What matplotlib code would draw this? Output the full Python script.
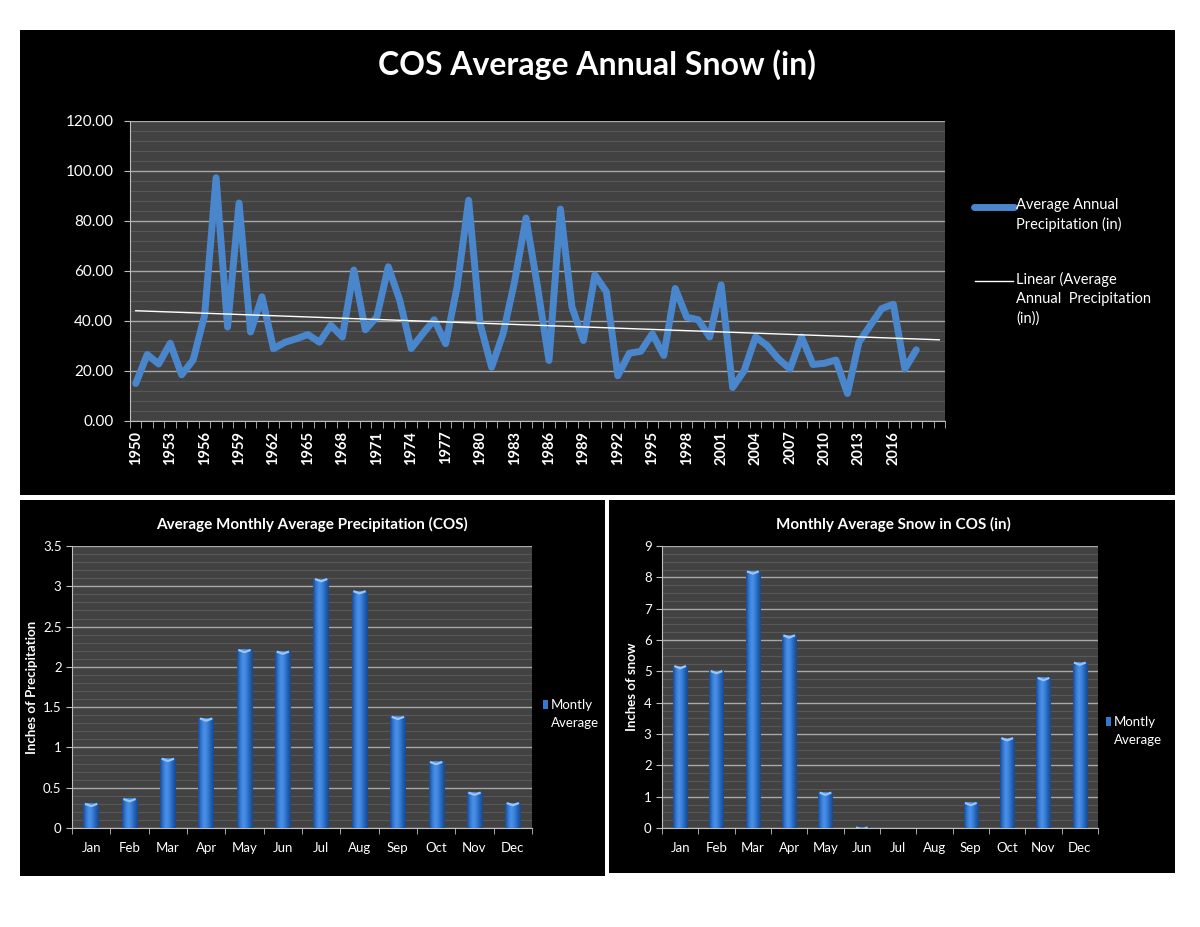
import numpy as np
import matplotlib
matplotlib.use("Agg")
import matplotlib.pyplot as plt
from matplotlib.patches import Rectangle
from matplotlib.lines import Line2D
from matplotlib.colors import LinearSegmentedColormap
from matplotlib.ticker import MultipleLocator, FixedLocator

plt.rcParams['font.family'] = ['Lato', 'DejaVu Sans']

# ---- data ----
years = list(range(1950, 2019))
annual_snow = [15.0, 26.6, 22.8, 31.1, 18.5, 24.4, 42.3, 97.3, 37.6, 87.2,
               35.6, 49.7, 28.9, 31.5, 32.9, 34.6, 31.5, 38.3, 33.6, 60.4,
               36.5, 41.6, 61.7, 48.3, 29.0, 34.9, 40.5, 30.9, 53.7, 88.3,
               38.9, 21.5, 34.9, 55.7, 81.2, 53.7, 24.2, 84.8, 45.6, 32.2,
               58.4, 51.7, 18.1, 27.1, 27.9, 34.9, 26.2, 53.0, 41.5, 40.5,
               33.6, 54.4, 13.4, 20.1, 33.6, 30.2, 24.8, 20.8, 33.6, 22.6,
               23.1, 24.4, 11.0, 31.5, 38.3, 45.0, 46.7, 20.8, 28.5]
n_slots = 71  # category axis runs two empty slots past the last year

months = ['Jan', 'Feb', 'Mar', 'Apr', 'May', 'Jun',
          'Jul', 'Aug', 'Sep', 'Oct', 'Nov', 'Dec']
monthly_precip = [0.30, 0.36, 0.86, 1.36, 2.21, 2.19, 3.09, 2.94, 1.38, 0.82, 0.44, 0.31]
monthly_snow = [5.17, 5.01, 8.19, 6.15, 1.13, 0.02, 0.0, 0.0, 0.80, 2.87, 4.79, 5.28]

W, H = 1200, 927
BLUE = '#4a86cc'
PLOT_BG = '#424242'
GRID_MAJOR = '#a8a8a8'
GRID_MINOR = '#585858'


def fx(x):
    return x / W


def fy(y):
    return 1 - y / H


def add_axes_px(fig, left, top, right, bottom):
    return fig.add_axes([fx(left), fy(bottom), (right - left) / W, (bottom - top) / H])


def panel(fig, left, top, right, bottom):
    fig.add_artist(Rectangle((fx(left), fy(bottom)), (right - left) / W, (bottom - top) / H,
                             transform=fig.transFigure, facecolor='black', edgecolor='none', zorder=0))


def style_axes(ax, major, minor):
    ax.set_facecolor(PLOT_BG)
    ax.yaxis.set_major_locator(MultipleLocator(major))
    ax.yaxis.set_minor_locator(MultipleLocator(minor))
    ax.grid(axis='y', which='major', color=GRID_MAJOR, lw=1.0, zorder=1)
    ax.grid(axis='y', which='minor', color=GRID_MINOR, lw=0.8, zorder=1)
    ax.set_axisbelow(True)
    for s in ['top', 'right']:
        ax.spines[s].set_visible(False)
    for s in ['left', 'bottom']:
        ax.spines[s].set_color('#bfbfbf')
    ax.tick_params(axis='y', which='minor', length=0)
    ax.tick_params(axis='y', which='major', colors='#bfbfbf', labelcolor='white', length=4)


bar_cmap = LinearSegmentedColormap.from_list(
    'bar', ['#1b4a90', '#3478d2', '#4b92e8', '#3a80da', '#2361b4', '#1a478c'])


def shade_bars(ax, bars):
    grad = np.linspace(0, 1, 64).reshape(1, -1)
    for b in bars:
        x0, w, h = b.get_x(), b.get_width(), b.get_height()
        b.set_alpha(0)
        if h <= 0:
            continue
        ax.imshow(grad, cmap=bar_cmap, extent=[x0, x0 + w, 0, h], aspect='auto',
                  interpolation='bicubic', zorder=3)
        ax.plot([x0 + w * 0.1, x0 + w * 0.5, x0 + w * 0.9], [h, h - ax.get_ylim()[1] * 0.008, h],
                color='#9cc6f5', lw=1.6, zorder=4, solid_capstyle='butt')


def monthly_chart(fig, box, values, ymax, major, minor, title, ylabel, title_x, ylabel_x, legend_xy):
    ax = add_axes_px(fig, *box)
    style_axes(ax, major, minor)
    x = np.arange(len(months))
    ax.set_ylim(0, ymax)
    ax.set_xlim(-0.5, len(months) - 0.5)
    bars = ax.bar(x, values, width=0.4, color=BLUE, zorder=3)
    shade_bars(ax, bars)
    ax.set_xlim(-0.5, len(months) - 0.5)
    ax.set_ylim(0, ymax)
    ax.yaxis.set_major_formatter(lambda v, p: f'{v:g}')
    ax.set_xticks(x)
    ax.set_xticklabels(months)
    ax.xaxis.set_minor_locator(FixedLocator(np.arange(len(months) + 1) - 0.5))
    ax.tick_params(axis='x', which='major', length=0, colors='white', labelsize=9.5, pad=10)
    ax.tick_params(axis='x', which='minor', length=4, color='#bfbfbf')
    ax.tick_params(axis='y', labelsize=9.5)
    fig.text(fx(title_x), fy(524), title, color='white', fontsize=11, fontweight='bold',
             ha='center', va='center')
    fig.text(fx(ylabel_x), fy(687), ylabel, color='white', fontsize=9.5, fontweight='bold',
             rotation=90, ha='center', va='center')
    lx, ly = legend_xy
    fig.add_artist(Rectangle((fx(lx), fy(ly + 4)), 5 / W, 9 / H, transform=fig.transFigure,
                             facecolor='#3478d2', edgecolor='none'))
    fig.text(fx(lx + 8), fy(ly), 'Montly', color='white', fontsize=9.5, ha='left', va='center')
    fig.text(fx(lx + 8), fy(ly + 18), 'Average', color='white', fontsize=9.5, ha='left', va='center')
    return ax


fig = plt.figure(figsize=(W / 100, H / 100), dpi=100, facecolor='white')

# ---- top: annual snow line ----
panel(fig, 20, 30, 1175, 495)
ax = add_axes_px(fig, 130, 121, 945, 421)
style_axes(ax, 20, 4)
ax.set_ylim(0, 120)
ax.set_xlim(-0.5, n_slots - 0.5)
xpos = np.arange(len(years))
ax.plot(xpos, annual_snow, color=BLUE, lw=5, solid_joinstyle='round',
        solid_capstyle='round', zorder=3)
slope, icpt = np.polyfit(xpos, annual_snow, 1)
xt = np.arange(n_slots)
ax.plot(xt, slope * xt + icpt, color='white', lw=1.0, zorder=4)
ax.yaxis.set_major_formatter(lambda v, p: f'{v:.2f}')
ax.tick_params(axis='y', labelsize=11, pad=8)
label_idx = xpos[::3]
ax.set_xticks(label_idx)
ax.set_xticklabels([str(years[i]) for i in label_idx], rotation=90, fontweight='bold')
ax.xaxis.set_minor_locator(FixedLocator(np.arange(n_slots + 1) - 0.5))
ax.tick_params(axis='x', which='major', length=0, colors='white', labelsize=10.5, pad=7)
ax.tick_params(axis='x', which='minor', length=5, color='#bfbfbf')

fig.text(fx(597), fy(65), 'COS Average Annual Snow (in)', color='white', fontsize=23,
         fontweight='bold', ha='center', va='center')

# legend, drawn by hand to keep the Excel look
fig.add_artist(Line2D([fx(974), fx(1014)], [fy(207), fy(207)], transform=fig.transFigure,
                      color=BLUE, lw=5, solid_capstyle='round'))
fig.text(fx(1016), fy(198), 'Average Annual\nPrecipitation (in)', color='white', fontsize=10.5,
         ha='left', va='top', linespacing=1.45)
fig.add_artist(Line2D([fx(975), fx(1013)], [fy(281), fy(281)], transform=fig.transFigure,
                      color='white', lw=1.0))
fig.text(fx(1016), fy(272), 'Linear (Average\nAnnual  Precipitation\n(in))', color='white',
         fontsize=10.5, ha='left', va='top', linespacing=1.45)

# ---- bottom panels ----
panel(fig, 20, 500, 605, 876)
panel(fig, 609, 500, 1175, 873)

monthly_chart(fig, (72, 546, 532, 828), monthly_precip, 3.5, 0.5, 0.1,
              'Average Monthly Average Precipitation (COS)', 'Inches of Precipitation',
              312, 32, (543, 705))
monthly_chart(fig, (662, 546, 1098, 828), monthly_snow, 9, 1, 0.25,
              'Monthly Average Snow in COS (in)', 'Inches of snow',
              893, 632, (1106, 722))

fig.savefig('out.png', dpi=100, facecolor='white')
